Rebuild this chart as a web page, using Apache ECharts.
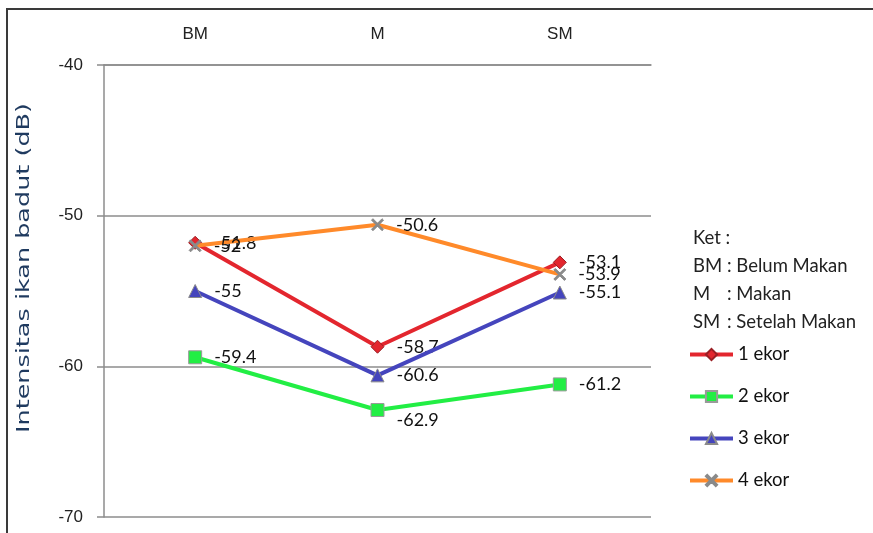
<!DOCTYPE html>
<html><head><meta charset="utf-8">
<script src="https://cdn.jsdelivr.net/npm/echarts@6/dist/echarts.min.js"></script>
<style>html,body{margin:0;padding:0;background:#fff}#c{width:873px;height:533px}</style>
</head><body><div id="c"></div>
<script>
const categories = ['BM', 'M', 'SM'];
const seriesNames = ['1 ekor', '2 ekor', '3 ekor', '4 ekor'];
const ekor1 = [-51.8, -58.7, -53.1];
const ekor2 = [-59.4, -62.9, -61.2];
const ekor3 = [-55, -60.6, -55.1];
const ekor4 = [-52, -50.6, -53.9];
const yTicks = [-70, -60, -50, -40];
const ketLines = [['BM', ': Belum Makan'], ['M', ': Makan'], ['SM', ': Setelah Makan']];

const chart = echarts.init(document.getElementById('c'));
const lblFont = 'Lato, "Liberation Sans", sans-serif';
const axFont = '"Liberation Sans", Arial, sans-serif';
const X_PATH = 'path://M0,1.2 L1.2,0 L5,3.8 L8.8,0 L10,1.2 L6.2,5 L10,8.8 L8.8,10 L5,6.2 L1.2,10 L0,8.8 L3.8,5 Z';

function mkData(arr, offsets) {
  return arr.map((v, i) => offsets && offsets[i] ? { value: v, label: { offset: offsets[i] } } : v);
}
const label = { show: true, position: 'right', distance: 12, color: '#111', fontSize: 18, fontFamily: lblFont };

const styles = [
  { line: '#E3262E', item: '#E3262E', border: '#9a1f24', symbol: 'diamond', size: 13 },
  { line: '#22EE44', item: '#22EE44', border: '#9a9a9a', symbol: 'rect', size: 13 },
  { line: '#4545BD', item: '#4545BD', border: '#8a8a8a', symbol: 'triangle', size: 13 },
  { line: '#FF8A2A', item: '#8a8a8a', border: '#8a8a8a', symbol: X_PATH, size: 12 }
];
const values = [ekor1, ekor2, ekor3, ekor4];
const offsets = [null, [null, [0, 10], null], null, null];

const series = values.map((vals, k) => ({
  name: seriesNames[k],
  type: 'line',
  data: mkData(vals, offsets[k]),
  symbol: styles[k].symbol,
  symbolSize: styles[k].size,
  lineStyle: { color: styles[k].line, width: 4 },
  itemStyle: { color: styles[k].item, borderColor: styles[k].border, borderWidth: 1 },
  label: label,
  z: 2 + k
}));

chart.setOption({
  animation: false,
  backgroundColor: '#fff',
  grid: { left: 104, right: 222, top: 65, bottom: 16 },
  xAxis: {
    type: 'category', data: categories, position: 'top', boundaryGap: true,
    axisLine: { lineStyle: { color: '#8c8c8c', width: 1.5 } },
    axisTick: { inside: true, length: 8, lineStyle: { color: '#8c8c8c', width: 1.5 } },
    axisLabel: { margin: 22, color: '#222', fontSize: 17, fontFamily: axFont }
  },
  yAxis: {
    type: 'value', min: yTicks[0], max: yTicks[yTicks.length - 1], interval: 10,
    axisLine: { show: true, lineStyle: { color: '#8c8c8c', width: 1.5 } },
    axisTick: { show: true, length: 7, lineStyle: { color: '#8c8c8c', width: 1.5 } },
    axisLabel: { margin: 21, color: '#222', fontSize: 17, fontFamily: axFont },
    splitLine: { show: true, lineStyle: { color: '#8c8c8c', width: 1.5 } }
  },
  legend: {
    orient: 'vertical', left: 688, top: 345, padding: 0, itemWidth: 43, itemHeight: 14, itemGap: 23,
    data: seriesNames,
    lineStyle: { width: 4 },
    textStyle: { color: '#111', fontSize: 18.5, fontFamily: lblFont },
    selectedMode: false
  },
  graphic: [
    { type: 'rect', shape: { x: 7, y: 9, width: 1000, height: 1000 }, style: { fill: 'none', stroke: '#3a3a3a', lineWidth: 2 }, silent: true },
    { type: 'text', x: 25, y: 268, rotation: Math.PI / 2, scaleX: 1.5,
      style: { text: 'Intensitas ikan badut (dB)', fill: '#1F3A5F', fontSize: 17, fontFamily: '"DejaVu Sans", Verdana, sans-serif', align: 'center', verticalAlign: 'middle' } },
    { type: 'text', x: 693, y: 238, style: { text: 'Ket :', fill: '#222', fontSize: 18.5, fontFamily: lblFont, verticalAlign: 'middle' } }
  ].concat(ketLines.flatMap((p, i) => [
    { type: 'text', x: 693, y: 266 + i * 28, style: { text: p[0], fill: '#222', fontSize: 18.5, fontFamily: lblFont, verticalAlign: 'middle' } },
    { type: 'text', x: 727, y: 266 + i * 28, style: { text: p[1], fill: '#222', fontSize: 18.5, fontFamily: lblFont, verticalAlign: 'middle' } }
  ])),
  series: series
});
</script></body></html>
